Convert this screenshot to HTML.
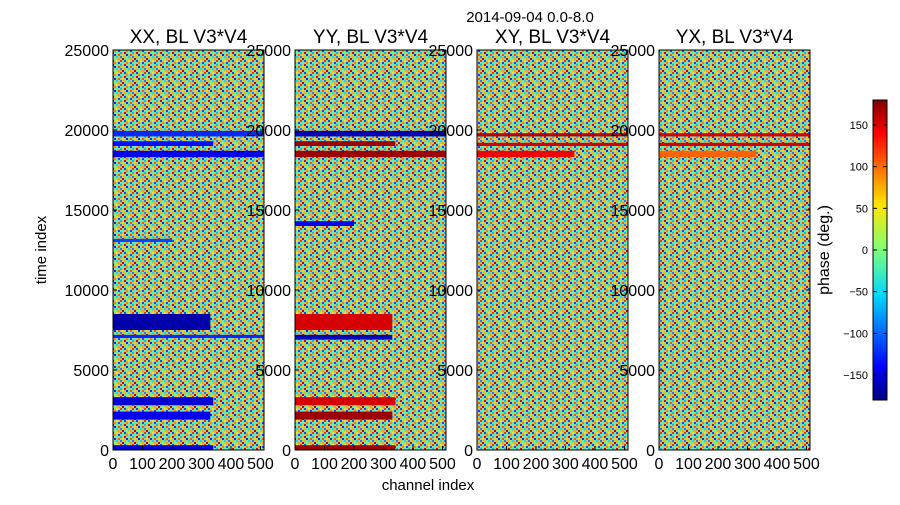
<!DOCTYPE html>
<html><head><meta charset="utf-8"><style>
body{margin:0;background:#fff;font-family:"Liberation Sans",sans-serif}
svg text{font-family:"Liberation Sans",sans-serif}
</style></head><body>
<svg id="c" width="900" height="500" xmlns="http://www.w3.org/2000/svg">
<defs>
<linearGradient id="jet" x1="0" y1="1" x2="0" y2="0">
<stop offset="0" stop-color="#00007f"/><stop offset="0.11" stop-color="#0000ff"/><stop offset="0.35" stop-color="#00d8ff"/><stop offset="0.5" stop-color="#7dff7a"/><stop offset="0.65" stop-color="#ffe600"/><stop offset="0.89" stop-color="#ff0000"/><stop offset="1" stop-color="#7f0000"/>
</linearGradient>
<pattern id="noise" width="12" height="12" patternUnits="userSpaceOnUse">
<rect width="12" height="12" fill="#9fd28a"/>
<rect x="0" y="0" width="2" height="2" fill="#ff3000"/><rect x="4" y="0" width="2" height="2" fill="#0050ff"/><rect x="8" y="0" width="2" height="2" fill="#ffe000"/>
<rect x="2" y="2" width="2" height="2" fill="#30ffd0"/><rect x="6" y="2" width="2" height="2" fill="#ff8000"/><rect x="10" y="2" width="2" height="2" fill="#2040ff"/>
<rect x="0" y="4" width="2" height="2" fill="#00c0ff"/><rect x="4" y="4" width="2" height="2" fill="#e00000"/><rect x="8" y="4" width="2" height="2" fill="#40ffb0"/>
<rect x="2" y="6" width="2" height="2" fill="#ffd000"/><rect x="6" y="6" width="2" height="2" fill="#0030e0"/><rect x="10" y="6" width="2" height="2" fill="#ff5000"/>
<rect x="0" y="8" width="2" height="2" fill="#3070ff"/><rect x="4" y="8" width="2" height="2" fill="#ffb000"/><rect x="8" y="8" width="2" height="2" fill="#00e0ff"/>
<rect x="2" y="10" width="2" height="2" fill="#c00000"/><rect x="6" y="10" width="2" height="2" fill="#60ff90"/><rect x="10" y="10" width="2" height="2" fill="#ffa000"/>
</pattern>
</defs>
<text x="530" y="22" font-size="15" text-anchor="middle">2014-09-04 0.0-8.0</text>
<text x="428" y="490" font-size="15" text-anchor="middle">channel index</text>
<text transform="translate(46,250) rotate(-90)" font-size="15" text-anchor="middle">time index</text>
<g id="panels"></g>
<g id="cbar"></g>
</svg>
<script>
const panelTitles=["XX, BL V3*V4","YY, BL V3*V4","XY, BL V3*V4","YX, BL V3*V4"];
const yTicks=[0,5000,10000,15000,20000,25000];
const xTicks=[0,100,200,300,400,500];
const cbTicks=[-150,-100,-50,0,50,100,150];
// bands: [tStart, tEnd, chanStart, chanEnd, phaseDeg]
const bandsXX=[[19600,19950,0,512,-120],[19000,19300,0,340,-130],[18300,18700,0,512,-140],[7500,8500,0,330,-165],[7000,7200,0,512,-120],[2800,3300,0,340,-150],[1900,2400,0,330,-140],[0,300,0,340,-150],[13000,13200,0,200,-110]];
const bandsYY=[[19600,19950,0,512,-160],[19000,19300,0,340,170],[18300,18700,0,512,170],[7500,8500,0,330,150],[6900,7200,0,330,-160],[2800,3300,0,340,150],[1900,2400,0,330,170],[0,300,0,340,170],[14000,14300,0,200,-140]];
const bandsXY=[[19600,19800,0,512,160],[19000,19200,0,512,150],[18300,18700,0,330,140]];
const bandsYX=[[19600,19800,0,512,150],[19000,19200,0,512,150],[18300,18700,0,330,100]];
const allBands=[bandsXX,bandsYY,bandsXY,bandsYX];
const panelX=[113,295,477,659], PW=151, PT=50, PH=400;
const NS="http://www.w3.org/2000/svg";
function mk(t,a,p){const e=document.createElementNS(NS,t);for(const k in a)e.setAttribute(k,a[k]);p.appendChild(e);return e;}
function jet(v){const x=(v+180)/360;const f=c=>Math.max(0,Math.min(1,1.5-Math.abs(4*x-c)));return `rgb(${Math.round(255*f(3))},${Math.round(255*f(2))},${Math.round(255*f(1))})`;}
const yScale=t=>PT+PH-t/25000*PH;
const pg=document.getElementById('panels');
panelTitles.forEach((title,i)=>{
 const x0=panelX[i];const xs=c=>x0+c/512*PW;
 const g=mk('g',{},pg);
 
 
 const bg=mk('rect',{x:x0,y:PT,width:PW,height:PH,fill:'url(#noise)'},g);
 
 
 allBands[i].forEach(b=>{
  const r=mk('rect',{x:xs(b[2]),y:yScale(b[1]),width:xs(b[3])-xs(b[2]),height:yScale(b[0])-yScale(b[1]),fill:jet(b[4])},g);
  
  
 });
 mk('rect',{x:x0,y:PT,width:PW,height:PH,fill:'none',stroke:'#000','stroke-width':1},g);
 const tt=mk('text',{x:x0+PW/2,y:43,'font-size':19,'text-anchor':'middle'},g);tt.textContent=title;
 
 
 yTicks.forEach(t=>{const y=yScale(t);mk('line',{x1:x0,x2:x0+4,y1:y,y2:y,stroke:'#000'},g);mk('line',{x1:x0+PW-4,x2:x0+PW,y1:y,y2:y,stroke:'#000'},g);
  const l=mk('text',{x:x0-4,y:y+6,'font-size':16,'text-anchor':'end'},g);l.textContent=t;
  
  });
 xTicks.forEach(c=>{const x=xs(c);mk('line',{x1:x,x2:x,y1:PT+PH,y2:PT+PH-4,stroke:'#000'},g);
  const l=mk('text',{x:x,y:469,'font-size':16,'text-anchor':'middle'},g);l.textContent=c;
  
  });
});
const cb=document.getElementById('cbar');
const cr=mk('rect',{x:873,y:100,width:14,height:300,fill:'url(#jet)',stroke:'#000'},cb);


cbTicks.forEach(v=>{const y=250-v/180*150;mk('line',{x1:873,x2:877,y1:y,y2:y,stroke:'#000'},cb);mk('line',{x1:883,x2:887,y1:y,y2:y,stroke:'#000'},cb);
 const l=mk('text',{x:868,y:y+4,'font-size':11,'text-anchor':'end'},cb);l.textContent=v<0?'\u2212'+(-v):v;
 
 });
const ct=mk('text',{transform:'translate(829,250) rotate(-90)','font-size':16,'text-anchor':'middle'},cb);ct.textContent='phase (deg.)';


</script>
</body></html>
